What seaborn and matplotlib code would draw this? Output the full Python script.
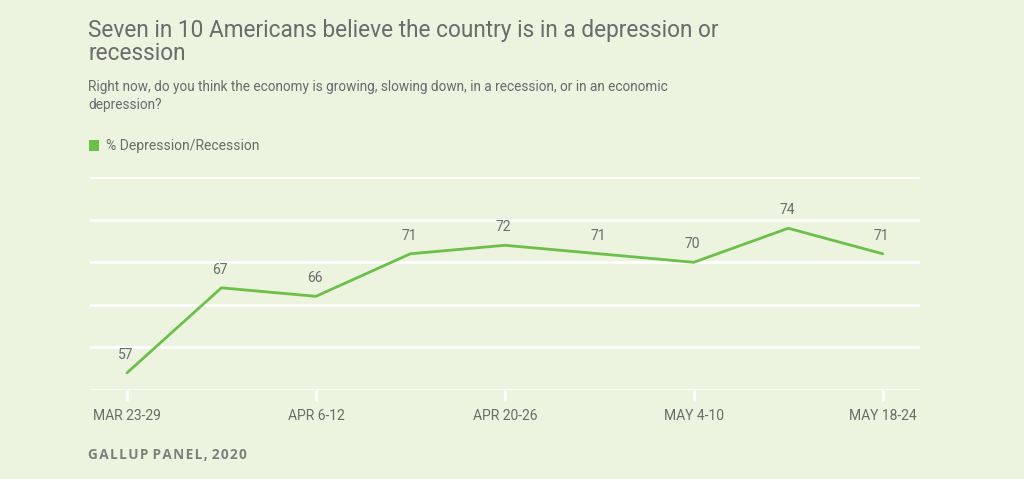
import matplotlib
matplotlib.use("Agg")
import matplotlib.pyplot as plt
import pandas as pd
import seaborn as sns

# data
weeks = ["MAR 23-29", "MAR 30-APR 5", "APR 6-12", "APR 13-19", "APR 20-26",
         "APR 27-MAY 3", "MAY 4-10", "MAY 11-17", "MAY 18-24"]
pct_depression = [57, 67, 66, 71, 72, 71, 70, 74, 71]
tick_labels = ["MAR 23-29", "APR 6-12", "APR 20-26", "MAY 4-10", "MAY 18-24"]

bg = "#ecf3de"
green = "#6cc04a"
grey = "#6b6b6b"

sns.set_theme(style="white")
plt.rcParams["font.family"] = ["Roboto", "DejaVu Sans"]

df = pd.DataFrame({"week": weeks, "pct": pct_depression})
df["pos"] = range(len(df))

fig = plt.figure(figsize=(10.24, 4.79), dpi=100)
fig.patch.set_facecolor(bg)
ax = fig.add_axes([0.088, 0.186, 0.81, 0.444])
ax.set_facecolor(bg)

sns.lineplot(data=df, x="pos", y="pct", color=green, linewidth=2, ax=ax)

for _, r in df.iterrows():
    ax.annotate(str(r["pct"]), (r["pos"], r["pct"]), xytext=(-1, 8),
                textcoords="offset points", ha="center", va="bottom",
                fontsize=10, color=grey)

ax.set_ylim(55, 80)
ax.set_yticks([55, 60, 65, 70, 75, 80])
ax.set_yticklabels([])
ax.grid(axis="y", color="white", linewidth=2)
ax.tick_params(axis="y", length=0)
ax.set_xlim(-0.39, 8.39)
tick_pos = [weeks.index(t) for t in tick_labels]
ax.set_xticks(tick_pos)
ax.set_xticklabels(tick_labels, fontsize=10, color=grey)
ax.tick_params(axis="x", length=8, width=2, color="white", pad=6, direction="out")
ax.tick_params(axis="x", bottom=True)
for s in ax.spines.values():
    s.set_visible(False)
ax.set_xlabel("")
ax.set_ylabel("")

fig.text(0.086, 0.937, "Seven in 10 Americans believe the country is in a depression or",
         fontsize=16.3, color=grey, va="center")
fig.text(0.086, 0.889, "recession", fontsize=16.3, color=grey, va="center")
fig.text(0.086, 0.818, "Right now, do you think the economy is growing, slowing down, in a recession, or in an economic",
         fontsize=9.8, color=grey, va="center")
fig.text(0.086, 0.781, "depression?", fontsize=9.8, color=grey, va="center")
fig.patches.append(plt.Rectangle((0.087, 0.685), 0.0095, 0.022, transform=fig.transFigure,
                                 facecolor=green, edgecolor="none"))
fig.text(0.104, 0.695, "% Depression/Recession", fontsize=10, color=grey, va="center")
fig.text(0.086, 0.05, "G A L L U P   P A N E L ,   2 0 2 0".replace(" ", "\u200a"),
         fontsize=9.8, color=grey, va="center", fontweight="bold", alpha=0.85,
         family=["Open Sans", "DejaVu Sans"])

fig.savefig("out.png", dpi=100, facecolor=bg)
